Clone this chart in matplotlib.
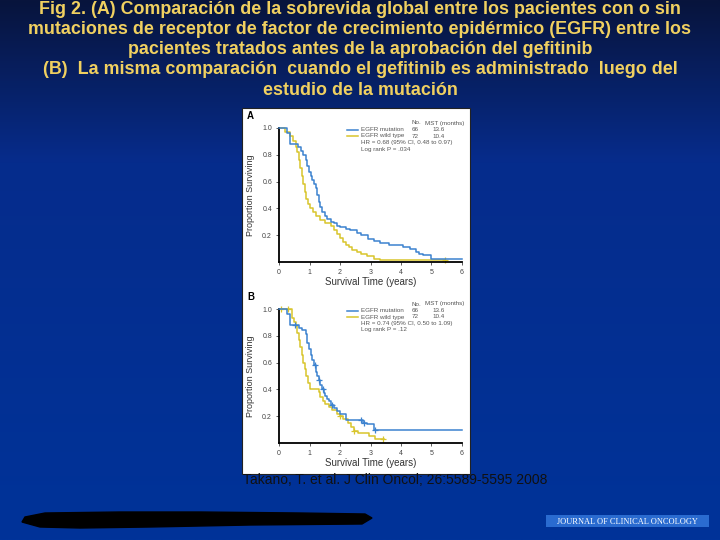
import numpy as np
import matplotlib
matplotlib.use("Agg")
import matplotlib.pyplot as plt
from matplotlib.patches import Rectangle, Polygon

plt.rcParams['font.family'] = ['Liberation Sans', 'DejaVu Sans']

# ---- data ----
title_lines = [
    "Fig 2. (A) Comparación de la sobrevida global entre los pacientes con o sin",
    "mutaciones de receptor de factor de crecimiento epidérmico (EGFR) entre los",
    "pacientes tratados antes de la aprobación del gefitinib",
    "(B)  La misma comparación  cuando el gefitinib es administrado  luego del",
    "estudio de la mutación",
]
citation = "Takano, T. et al. J Clin Oncol; 26:5589-5595 2008"

x_ticks = [0, 1, 2, 3, 4, 5, 6]
y_ticks = [0.2, 0.4, 0.6, 0.8, 1.0]

# panel A
a_mut_t = [0, 0.25, 0.36, 0.62, 0.72, 0.8, 0.87, 0.92, 0.98, 1.04, 1.09, 1.15, 1.2, 1.26,
           1.3, 1.36, 1.41, 1.5, 1.58, 1.7, 1.79, 1.9, 2.0, 2.2, 2.34, 2.55, 2.7, 2.93,
           3.1, 3.3, 3.6, 4.08, 4.3, 4.5, 4.6, 4.73, 5.0, 6.0]
a_mut_s = [1.0, 0.96, 0.88, 0.86, 0.83, 0.80, 0.76, 0.72, 0.67, 0.64, 0.61, 0.58, 0.55, 0.50,
           0.45, 0.41, 0.37, 0.34, 0.32, 0.30, 0.29, 0.27, 0.26, 0.25, 0.24, 0.22, 0.20, 0.17,
           0.16, 0.14, 0.13, 0.11, 0.10, 0.075, 0.06, 0.05, 0.025, 0.025]
a_wt_t = [0, 0.2, 0.35, 0.45, 0.55, 0.6, 0.65, 0.7, 0.75, 0.8, 0.85, 0.9, 0.95, 1.0, 1.1,
          1.2, 1.36, 1.5, 1.7, 1.8, 1.9, 2.0, 2.1, 2.2, 2.3, 2.4, 2.55, 2.7, 2.9, 3.1, 3.3, 5.45]
a_wt_s = [1.0, 0.97, 0.94, 0.90, 0.86, 0.82, 0.76, 0.70, 0.64, 0.58, 0.52, 0.47, 0.43, 0.40,
          0.37, 0.34, 0.31, 0.29, 0.27, 0.24, 0.21, 0.18, 0.15, 0.13, 0.11, 0.09, 0.075, 0.06,
          0.045, 0.025, 0.012, 0.012]
a_mut_cens = []
a_wt_cens = [5.45]
a_stats = ["HR = 0.68 (95% CI, 0.48 to 0.97)", "Log rank P = .034"]

# panel B
b_mut_t = [0, 0.25, 0.36, 0.65, 0.75, 0.87, 0.93, 0.98, 1.04, 1.09, 1.15, 1.2, 1.25, 1.3,
           1.36, 1.41, 1.47, 1.52, 1.58, 1.63, 1.7, 1.79, 1.9, 2.0, 2.2, 2.75, 2.9, 3.1, 6.0]
b_mut_s = [1.0, 0.96, 0.88, 0.86, 0.84, 0.81, 0.75, 0.70, 0.66, 0.62, 0.58, 0.53, 0.50, 0.47,
           0.43, 0.40, 0.37, 0.35, 0.33, 0.31, 0.28, 0.26, 0.24, 0.22, 0.17, 0.15, 0.14, 0.10, 0.10]
b_wt_t = [0, 0.42, 0.5, 0.55, 0.6, 0.65, 0.7, 0.75, 0.8, 0.85, 0.9, 0.95, 1.0, 1.03, 1.3,
          1.36, 1.45, 1.52, 1.65, 1.75, 1.9, 2.0, 2.1, 2.25, 2.35, 2.45, 2.6, 2.95, 3.15, 3.45]
b_wt_s = [1.0, 0.93, 0.90, 0.87, 0.82, 0.77, 0.72, 0.66, 0.60, 0.55, 0.50, 0.45, 0.41, 0.40,
          0.38, 0.34, 0.31, 0.29, 0.27, 0.25, 0.22, 0.20, 0.18, 0.15, 0.12, 0.09, 0.075, 0.055,
          0.03, 0.03]
b_mut_cens = [0.52, 1.17, 1.3, 1.45, 1.75, 2.7, 2.8, 3.15]
b_wt_cens = [0.08, 0.3, 2.0, 2.45, 3.4]
b_stats = ["HR = 0.74 (95% CI, 0.50 to 1.09)", "Log rank P = .12"]

groups = ["EGFR mutation", "EGFR wild type"]
group_n = ["66", "72"]
group_mst = ["13.6", "10.4"]

BLUE = '#3c82cf'
YEL = '#d8c52c'

W, H = 720, 540
fig = plt.figure(figsize=(7.2, 5.4), dpi=100)

# slide background gradient
bg = fig.add_axes([0, 0, 1, 1])
ys = np.linspace(0, 1, 300)[:, None]
top = np.array([8, 20, 60]) / 255
mid = np.array([6, 44, 140]) / 255
bot = np.array([0, 51, 153]) / 255
w = np.clip(ys / 0.3, 0, 1)
col = np.where(ys < 0.3, top + (mid - top) * w, mid + (bot - mid) * np.clip((ys - 0.3) / 0.7, 0, 1))
bg.imshow(np.repeat(col[:, None, :], 2, axis=1), aspect='auto', extent=[0, W, H, 0])
bg.set_xlim(0, W)
bg.set_ylim(H, 0)
bg.axis('off')

# white figure box
bg.add_patch(Rectangle((242, 108), 228, 366, facecolor='white', edgecolor='#222222', lw=0.8))

# black scribble + journal tag at the bottom
scrib = [(25, 517), (45, 513), (120, 512), (200, 512), (300, 513), (365, 514), (372, 518),
         (362, 524), (250, 525), (150, 527), (80, 528), (40, 527), (22, 522)]
bg.add_patch(Polygon(scrib, closed=True, facecolor='black', edgecolor='black'))
bg.add_patch(Rectangle((546, 515), 163, 12, facecolor='#2a6bd0', edgecolor='none'))
bg.text(627, 521.5, "JOURNAL OF CLINICAL ONCOLOGY", color='white', fontsize=6,
        family='Liberation Serif', ha='center', va='center')

for i, line in enumerate(title_lines):
    bg.text(W / 2, 9 + i * 20.3, line, color='#f0d060', fontsize=12.9, fontweight='bold',
            ha='center', va='center')

bg.text(395, 480, citation, color='#111111', fontsize=10, ha='center', va='center')


def cens_y(t, s, c):
    idx = np.searchsorted(t, c, side='right') - 1
    return np.array(s)[idx]


def panel(rect, label, mt, ms, wt, ws, mc, wc, stats, ltop):
    ax = fig.add_axes(rect)
    ax.step(mt, ms, where='post', color=BLUE, lw=1.1, clip_on=False, zorder=3)
    ax.step(wt, ws, where='post', color=YEL, lw=1.1, clip_on=False, zorder=2)
    if mc:
        ax.plot(mc, cens_y(mt, ms, mc), '+', color=BLUE, ms=5, mew=0.9, clip_on=False)
    if wc:
        ax.plot(wc, cens_y(wt, ws, wc), '+', color=YEL, ms=5, mew=0.9, clip_on=False)
    ax.set_xlim(0, 6)
    ax.set_ylim(0, 1.0)
    ax.set_xticks(x_ticks)
    ax.set_yticks(y_ticks)
    ax.set_xticklabels([str(v) for v in x_ticks])
    ax.set_yticklabels([f"{v:.1f}" for v in y_ticks])
    ax.tick_params(labelsize=5, colors='#444444', length=2, width=0.6, pad=3)
    for s in ['top', 'right']:
        ax.spines[s].set_visible(False)
    for s in ['left', 'bottom']:
        ax.spines[s].set_linewidth(1.3)
        ax.spines[s].set_color('black')
    ax.set_ylabel("Proportion Surviving", fontsize=6.5, color='#333333', labelpad=5)
    ax.set_xlabel("Survival Time (years)", fontsize=7, color='#333333', labelpad=1)
    ax.patch.set_alpha(0)
    # letter and legend, in slide pixels
    bg.text(247, ltop - 7, label, fontsize=7, fontweight='bold', ha='left', va='center')
    bg.text(412, ltop, "No.", fontsize=4.5, color='#555555', va='center')
    bg.text(425, ltop, "MST (months)", fontsize=4.5, color='#555555', va='center')
    for k, (g, n, m, c) in enumerate(zip(groups, group_n, group_mst, [BLUE, YEL])):
        yy = ltop + 6.5 * (k + 1)
        bg.plot([347, 358], [yy, yy], color=c, lw=1.1)
        bg.text(361, yy, g, fontsize=4.5, color='#555555', va='center')
        bg.text(412, yy, n, fontsize=4.5, color='#555555', va='center')
        bg.text(432, yy, m, fontsize=4.5, color='#555555', va='center')
    for k, st in enumerate(stats):
        bg.text(361, ltop + 6.5 * (k + 3), st, fontsize=4.5, color='#555555', va='center')
    return ax


panel([279 / W, 1 - 262 / H, 183 / W, 134 / H], "A", a_mut_t, a_mut_s, a_wt_t, a_wt_s,
      a_mut_cens, a_wt_cens, a_stats, 123)
panel([279 / W, 1 - 443 / H, 183 / W, 134 / H], "B", b_mut_t, b_mut_s, b_wt_t, b_wt_s,
      b_mut_cens, b_wt_cens, b_stats, 304)

bg.set_xlim(0, W)
bg.set_ylim(H, 0)

fig.savefig("out.png", dpi=100)
